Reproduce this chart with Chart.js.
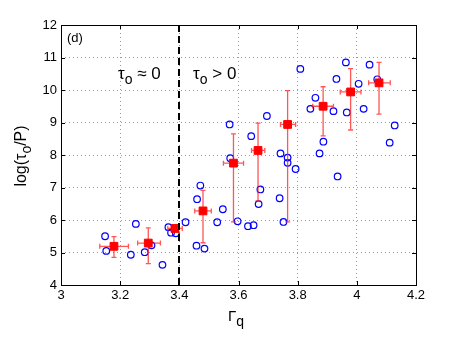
<!DOCTYPE html>
<html>
<head>
<meta charset="utf-8">
<script src="https://cdn.jsdelivr.net/npm/chart.js@4"></script>
<style>
  html, body { margin: 0; padding: 0; background: #fff; }
  #wrap { width: 463px; height: 341px; }
</style>
</head>
<body>
<div id="wrap"><canvas id="graphique"></canvas></div>
<script>
// points individuels (cercles bleus)
const gammaPts = [3.149, 3.153, 3.236, 3.253, 3.283, 3.306, 3.343, 3.363, 3.372, 3.388,
  3.421, 3.458, 3.46, 3.471, 3.485, 3.528, 3.547, 3.57, 3.572, 3.597,
  3.632, 3.651, 3.643, 3.668, 3.674, 3.696, 3.739, 3.742, 3.752, 3.766,
  3.766, 3.793, 3.809, 3.843, 3.86, 3.874, 3.887, 3.921, 3.931, 3.935,
  3.963, 3.966, 4.006, 4.023, 4.043, 4.069, 4.111, 4.128];
const logTauPts = [5.50, 5.05, 4.93, 5.88, 5.01, 5.22, 4.62, 5.78, 5.61, 5.59,
  5.93, 5.21, 6.64, 7.06, 5.12, 5.93, 6.33, 8.94, 7.90, 5.96,
  5.81, 5.84, 8.58, 6.49, 6.94, 9.20, 6.67, 8.05, 5.94, 7.92,
  7.76, 7.57, 10.65, 9.42, 9.76, 8.05, 8.41, 9.35, 10.34, 7.34,
  10.85, 9.31, 10.19, 9.42, 10.78, 10.33, 8.38, 8.91];

// moyennes par classe (carres rouges) + barres d'erreur
const gammaBin = [3.179, 3.295, 3.385, 3.48, 3.583, 3.666, 3.766, 3.886, 3.979, 4.075];
const gammaBinLo = [3.131, 3.259, 3.361, 3.452, 3.549, 3.644, 3.742, 3.851, 3.944, 4.04];
const gammaBinHi = [3.228, 3.336, 3.41, 3.508, 3.617, 3.689, 3.793, 3.921, 4.014, 4.113];
const logTauBin = [5.19, 5.29, 5.74, 6.28, 7.75, 8.14, 8.94, 9.50, 9.94, 10.22];
const logTauBinLo = [4.85, 4.66, 5.64, 5.30, 5.94, 6.59, 5.94, 8.59, 8.77, 9.26];
const logTauBinHi = [5.49, 5.76, 5.84, 6.91, 8.65, 8.98, 9.98, 10.10, 10.66, 10.85];

const xTicks = [3, 3.2, 3.4, 3.6, 3.8, 4, 4.2];
const yTicks = [4, 5, 6, 7, 8, 9, 10, 11, 12];
const seuilGamma = 3.4;

const police = "'Liberation Sans', Arial, sans-serif";

// texte avec indice : morceaux [texte, estIndice]
function texteIndice(ctx, morceaux, x, y, taille, tailleIndice) {
  let cx = x;
  for (const [t, sub] of morceaux) {
    ctx.font = (sub ? tailleIndice : taille) + "px " + police;
    ctx.fillText(t, cx, sub ? y + 5 : y);
    cx += ctx.measureText(t).width;
  }
  return cx - x;
}
function largeur(ctx, morceaux, taille, tailleIndice) {
  let w = 0;
  for (const [t, sub] of morceaux) {
    ctx.font = (sub ? tailleIndice : taille) + "px " + police;
    w += ctx.measureText(t).width;
  }
  return w;
}

const decor = {
  id: "decor",
  afterDatasetDraw(chart, args) {
    if (args.index !== 1) return;
    // barres d'erreur
    const ctx = chart.ctx, sx = chart.scales.x, sy = chart.scales.y;
    ctx.save();
    ctx.strokeStyle = "rgba(255,30,30,0.75)";
    ctx.lineWidth = 1.3;
    const cap = 2.5;
    for (let i = 0; i < gammaBin.length; i++) {
      const px = sx.getPixelForValue(gammaBin[i]);
      const py = sy.getPixelForValue(logTauBin[i]);
      const y1 = sy.getPixelForValue(logTauBinLo[i]);
      const y2 = sy.getPixelForValue(logTauBinHi[i]);
      const x1 = sx.getPixelForValue(gammaBinLo[i]);
      const x2 = sx.getPixelForValue(gammaBinHi[i]);
      ctx.beginPath();
      ctx.moveTo(px, y1); ctx.lineTo(px, y2);
      ctx.moveTo(px - cap, y1); ctx.lineTo(px + cap, y1);
      ctx.moveTo(px - cap, y2); ctx.lineTo(px + cap, y2);
      ctx.moveTo(x1, py); ctx.lineTo(x2, py);
      ctx.moveTo(x1, py - cap); ctx.lineTo(x1, py + cap);
      ctx.moveTo(x2, py - cap); ctx.lineTo(x2, py + cap);
      ctx.stroke();
    }
    ctx.restore();
  },
  afterDraw(chart) {
    const ctx = chart.ctx, a = chart.chartArea;
    const sx = chart.scales.x, sy = chart.scales.y;
    ctx.save();
    // ligne pointillee tau = 0
    const xs = Math.round(sx.getPixelForValue(seuilGamma));
    ctx.strokeStyle = "#000";
    ctx.lineWidth = 2;
    ctx.setLineDash([7, 4]);
    ctx.beginPath();
    ctx.moveTo(xs, a.bottom); ctx.lineTo(xs, a.top);
    ctx.stroke();
    ctx.setLineDash([]);
    // cadre
    ctx.lineWidth = 1;
    ctx.strokeRect(Math.round(a.left) + 0.5, Math.round(a.top) + 0.5,
      Math.round(a.right - a.left), Math.round(a.bottom - a.top));
    // petites graduations vers l'interieur
    const tl = 4;
    ctx.beginPath();
    for (const v of xTicks) {
      const p = Math.round(sx.getPixelForValue(v)) + 0.5;
      ctx.moveTo(p, a.bottom); ctx.lineTo(p, a.bottom - tl);
      ctx.moveTo(p, a.top); ctx.lineTo(p, a.top + tl);
    }
    for (const v of yTicks) {
      const p = Math.round(sy.getPixelForValue(v)) + 0.5;
      ctx.moveTo(a.left, p); ctx.lineTo(a.left + tl, p);
      ctx.moveTo(a.right, p); ctx.lineTo(a.right - tl, p);
    }
    ctx.stroke();

    ctx.fillStyle = "#000";
    ctx.textBaseline = "alphabetic";
    ctx.textAlign = "left";
    ctx.font = "13px " + police;
    ctx.fillText("(d)", 67, 42);

    texteIndice(ctx, [["\u03c4", false], ["o", true], [" \u2248 0", false]], 118, 79, 17, 14);
    texteIndice(ctx, [["\u03c4", false], ["o", true], [" > 0", false]], 193, 79, 17, 14);

    // titre axe x
    texteIndice(ctx, [["\u0393", false], ["q", true]], 228, 321, 15, 14);

    // titre axe y
    const my = [["log(\u03c4", false], ["o", true], ["/P)", false]];
    const w = largeur(ctx, my, 16, 14);
    ctx.translate(26, 156);
    ctx.rotate(-Math.PI / 2);
    texteIndice(ctx, my, -w / 2, 0, 16, 14);
    ctx.restore();
  }
};

const config = {
  type: "scatter",
  data: {
    datasets: [
      {
        label: "moyenne",
        data: gammaBin.map((g, i) => ({ x: g, y: logTauBin[i] })),
        pointStyle: "rect",
        pointRadius: 5.5,
        pointHoverRadius: 5.5,
        backgroundColor: "#ff0000",
        borderColor: "#ff0000",
        borderWidth: 1
      },
      {
        label: "etoiles",
        data: gammaPts.map((g, i) => ({ x: g, y: logTauPts[i] })),
        pointStyle: "circle",
        pointRadius: 3.3,
        pointHoverRadius: 3.3,
        backgroundColor: "rgba(0,0,0,0)",
        borderColor: "#0000ff",
        borderWidth: 1.2
      }
    ]
  },
  options: {
    responsive: false,
    animation: false,
    events: [],
    layout: { padding: { left: 0, right: 47, top: 25, bottom: 0 } },
    plugins: { legend: { display: false }, tooltip: { enabled: false } },
    scales: {
      x: {
        type: "linear",
        min: 3, max: 4.2,
        afterBuildTicks: s => { s.ticks = xTicks.map(v => ({ value: v })); },
        afterFit: s => { s.height = 56; },
        ticks: {
          color: "#000",
          font: { family: police, size: 13 },
          padding: 3,
          maxRotation: 0,
          callback: v => String(Math.round(v * 10) / 10)
        },
        grid: { color: "#9a9a9a", lineWidth: 1, drawTicks: false },
        border: { display: false, dash: [1, 3] }
      },
      y: {
        type: "linear",
        min: 4, max: 12,
        afterBuildTicks: s => { s.ticks = yTicks.map(v => ({ value: v })); },
        afterFit: s => { s.width = 61; },
        ticks: {
          color: "#000",
          font: { family: police, size: 13 },
          padding: 4,
          callback: v => String(v)
        },
        grid: { color: "#9a9a9a", lineWidth: 1, drawTicks: false },
        border: { display: false, dash: [1, 3] }
      }
    }
  },
  plugins: [decor]
};

const canvas = document.getElementById("graphique");
canvas.width = 463;
canvas.height = 341;
new Chart(canvas, config);
</script>
</body>
</html>
